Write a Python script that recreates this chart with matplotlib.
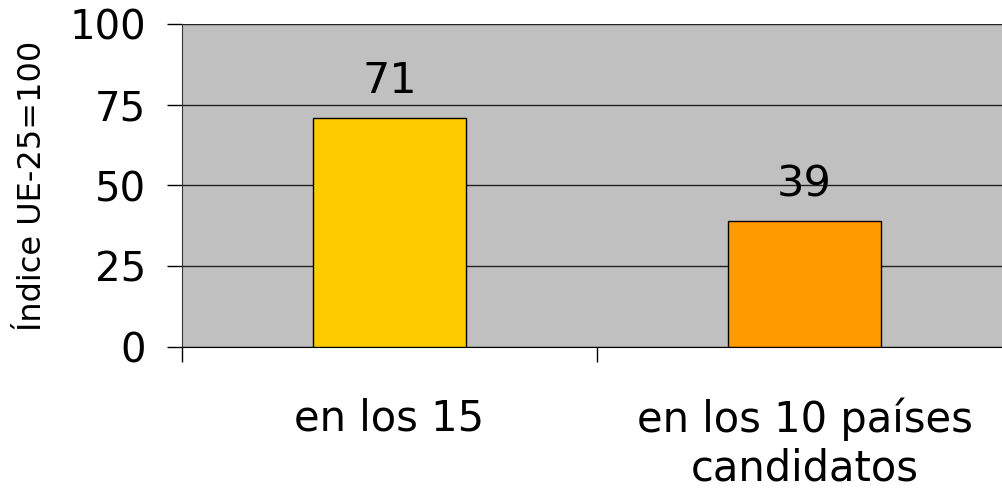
import numpy as np
import matplotlib.pyplot as plt

categories = ['en los 15', 'en los 10 países\ncandidatos']
values = [71, 39]
bar_colors = ['#FFCC00', '#FF9900']
y_ticks = [0, 25, 50, 75, 100]

plt.rcParams['font.family'] = ['DejaVu Sans']

fig = plt.figure(figsize=(10.02, 4.9), dpi=100)
ax = fig.add_axes([182 / 1002, 1 - 347 / 490, (1002 - 182) / 1002, (347 - 24) / 490])
ax.set_facecolor('#C0C0C0')

x = np.arange(len(categories))
bars = ax.bar(x, values, width=0.37, color=bar_colors, edgecolor='black', linewidth=1, zorder=3)

for bar, v in zip(bars, values):
    ax.annotate(str(v), (bar.get_x() + bar.get_width() / 2, v), xytext=(0, 11),
                textcoords='offset points', ha='center', va='bottom', fontsize=31)

ax.set_xlim(-0.5, (1002 - 182) / 415 - 0.5)
ax.set_ylim(0, 100)
ax.set_yticks(y_ticks)
ax.tick_params(axis='y', labelsize=29, length=11, width=1, pad=15)
ax.yaxis.grid(True, color='#222222', linewidth=1, zorder=1)

# category boundary ticks, labels at centers
ax.set_xticks([-0.5, 0.5])
ax.set_xticklabels([])
ax.set_xticks(x, minor=True)
ax.set_xticklabels(categories, minor=True, fontsize=30, linespacing=1.22)
ax.tick_params(axis='x', which='major', length=11, width=1)
ax.tick_params(axis='x', which='minor', length=0, pad=36)

for side in ['top', 'right']:
    ax.spines[side].set_visible(False)
ax.spines['left'].set_color('#333333')
ax.spines['bottom'].set_color('black')

ax.set_ylabel('Índice UE-25=100', fontsize=23, labelpad=15)

fig.savefig('out.png', dpi=100)
